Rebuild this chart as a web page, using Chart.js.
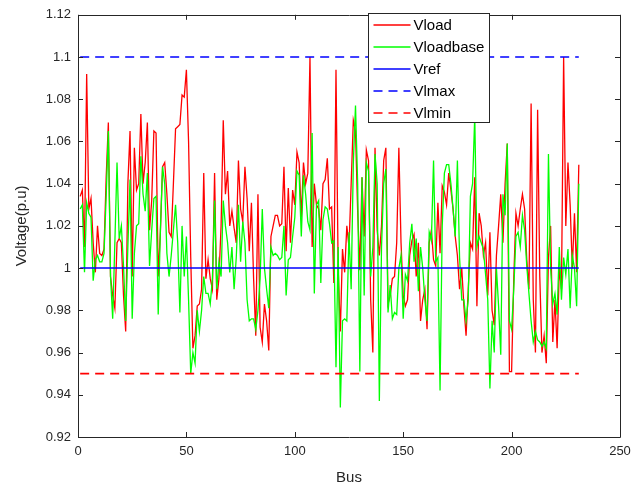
<!DOCTYPE html>
<html>
<head>
<meta charset="utf-8">
<script src="https://cdn.jsdelivr.net/npm/chart.js@4"></script>
<style>
    html, body { margin: 0; padding: 0; background: #fff; }
    #wrap { width: 641px; height: 491px; position: relative; }
</style>
</head>
<body>
<div id="wrap"><canvas id="chart"></canvas></div>
<script>
// bus voltages (p.u.), bus 1..231
const vload = [
    1.034, 1.037, 1.010, 1.092, 1.028, 1.033, 1.012, 0.998, 1.020, 1.007,
    1.006, 1.009, 1.043, 1.069, 0.996, 0.987, 0.981, 1.012, 1.014, 1.012,
    0.987, 0.970, 1.040, 1.065, 0.996, 1.057, 1.037, 1.040, 1.073, 1.040,
    1.050, 1.069, 1.018, 1.032, 1.065, 1.064, 0.996, 1.017, 1.048, 1.050,
    1.035, 1.017, 1.015, 1.040, 1.066, 1.067, 1.068, 1.082, 1.081, 1.094,
    1.060, 1.005, 0.962, 0.968, 0.982, 0.983, 0.990, 1.045, 0.995, 1.004,
    0.995, 0.990, 1.045, 0.985, 0.995, 1.020, 1.070, 1.035, 1.046, 1.020,
    1.027, 1.019, 1.012, 1.051, 1.028, 1.022, 1.048, 1.033, 1.008, 1.031,
    0.995, 0.968, 1.035, 0.972, 0.965, 0.983, 0.975, 0.961, 1.015, 1.020,
    1.025, 1.025, 1.020, 1.021, 1.048, 1.008, 1.038, 1.012, 1.037, 1.030,
    1.055, 1.050, 1.024, 1.050, 1.040, 1.045, 1.100, 1.010, 1.040, 1.030,
    1.028, 1.018, 1.040, 1.042, 1.052, 1.028, 1.029, 0.993, 1.094, 1.000,
    0.970, 1.009, 0.998, 1.020, 1.010, 1.040, 1.070, 1.065, 1.027, 0.999,
    1.043, 1.015, 1.056, 1.051, 0.985, 0.960, 1.057, 1.018, 1.006, 1.020,
    1.051, 1.057, 0.983, 0.987, 0.995, 0.996, 1.012, 1.057, 1.012, 0.987,
    0.982, 0.985, 1.006, 1.013, 1.016, 0.996, 1.012, 0.975, 0.985, 0.990,
    0.971, 1.012, 1.018, 1.004, 1.001, 1.031, 1.007, 1.039, 1.036, 1.030,
    1.045, 1.037, 1.028, 1.015, 1.006, 0.990, 1.000, 0.982, 0.968, 0.990,
    1.012, 1.009, 1.043, 0.982, 1.026, 1.020, 1.006, 1.012, 0.987, 1.017,
    0.980, 0.973, 1.006, 1.020, 1.035, 1.012, 1.040, 1.059, 0.951, 0.951,
    0.995, 1.026, 1.020, 1.028, 1.035, 1.028, 1.004, 0.990, 1.078, 0.985,
    0.960, 1.075, 0.996, 0.960, 0.968, 0.955, 1.005, 1.020, 0.965, 0.985,
    0.962, 1.000, 0.990, 1.100, 1.020, 1.050, 1.030, 1.000, 1.026, 0.998,
    1.049
];
const vloadbase = [
    1.028, 1.030, 0.998, 1.031, 1.026, 1.024, 0.994, 1.004, 1.006, 1.003,
    1.003, 1.007, 1.034, 1.065, 0.996, 0.976, 1.012, 1.050, 1.014, 1.020,
    1.001, 0.975, 1.010, 1.042, 0.976, 1.007, 1.020, 1.021, 1.053, 1.035,
    1.027, 1.045, 1.001, 1.018, 1.033, 1.034, 0.978, 1.018, 1.048, 1.040,
    1.007, 0.996, 1.006, 1.018, 1.030, 1.012, 0.979, 1.020, 0.996, 1.015,
    0.985, 0.950, 0.960, 0.955, 0.980, 0.970, 0.980, 0.996, 0.988, 0.988,
    0.983, 0.995, 1.032, 0.990, 1.003, 0.996, 1.032, 1.020, 1.012, 0.998,
    1.010, 0.990, 1.005, 1.030, 1.003, 1.022, 1.012, 0.985, 0.975, 0.976,
    0.976, 0.971, 0.980, 0.995, 1.028, 1.000, 0.990, 0.981, 1.010, 1.006,
    1.007, 1.006, 1.004, 1.005, 1.020, 0.987, 1.004, 1.005, 1.015, 1.024,
    1.046, 1.044, 1.015, 1.044, 1.035, 1.022, 1.018, 1.064, 0.988, 1.030,
    1.032, 0.993, 1.023, 1.029, 1.028, 1.021, 1.012, 1.013, 0.953, 1.010,
    0.934, 0.975, 0.976, 0.975, 1.017, 0.990, 1.050, 1.077, 1.040, 0.951,
    1.043, 0.987, 1.050, 1.046, 0.996, 1.010, 1.054, 1.040, 0.937, 1.010,
    1.040, 1.047, 0.979, 0.992, 0.976, 0.979, 0.978, 1.000, 1.006, 0.976,
    0.997, 0.994, 1.012, 1.021, 1.003, 1.014, 0.989, 1.010, 1.000, 0.985,
    0.975, 1.017, 1.013, 1.051, 1.003, 1.005, 0.942, 1.020, 1.045, 1.049,
    1.049, 1.040, 1.028, 1.015, 1.051, 1.005, 0.985, 0.985, 0.975, 0.985,
    1.034, 1.040, 1.072, 1.010, 1.015, 1.012, 1.009, 0.997, 0.985, 0.943,
    0.975, 0.960, 1.000, 0.982, 0.959, 1.035, 1.025, 1.059, 0.975, 0.971,
    0.990, 1.015, 1.017, 1.010, 1.025, 1.018, 1.001, 0.988, 0.975, 0.965,
    0.970, 0.966, 0.965, 0.963, 0.965, 0.962, 1.054, 1.000, 0.983, 0.988,
    0.978, 1.010, 0.985, 1.005, 0.997, 1.009, 0.981, 1.006, 1.000, 0.982,
    1.040
];
const vref = 1.0;
const vlmax = 1.1;
const vlmin = 0.95;
const seriesNames = ['Vload', 'Vloadbase', 'Vref', 'Vlmax', 'Vlmin'];
const xTicks = [0, 50, 100, 150, 200, 250];
const yTicks = [0.92, 0.94, 0.96, 0.98, 1, 1.02, 1.04, 1.06, 1.08, 1.1, 1.12];

const buses = vload.map((v, i) => i + 1);
const firstBus = buses[0];
const lastBus = buses[buses.length - 1];

const RED = '#ff0000';
const GREEN = '#00ff00';
const BLUE = '#0000ff';
const AXIS = '#262626';
const FONT = "'Liberation Sans', Arial, sans-serif";
const DASH = [9, 6];

// one style per series, same order as seriesNames
const seriesColors = [RED, GREEN, BLUE, BLUE, RED];
const seriesDash = [[], [], [], DASH, DASH];
const seriesWidth = [1.3, 1.3, 1.5, 1.6, 1.6];

function points(values) {
    return values.map((v, i) => ({ x: buses[i], y: v }));
}

function flat(v) {
    return [{ x: firstBus, y: v }, { x: lastBus, y: v }];
}

let seriesData = [points(vload), points(vloadbase), flat(vref), flat(vlmax), flat(vlmin)];

// first series at the bottom, like matlab's plot order
let datasets = seriesNames.map((name, i) => ({
    label: name,
    data: seriesData[i],
    borderColor: seriesColors[i],
    borderDash: seriesDash[i],
    borderWidth: seriesWidth[i],
    pointRadius: 0,
    fill: false,
    tension: 0,
    order: seriesNames.length - i
}));

// matlab-like box with inward ticks, plus a legend drawn over the lines
const matlabFrame = {
    id: 'matlabFrame',
    afterDraw(chart) {
        const ctx = chart.ctx;
        const a = chart.chartArea;
        const xs = chart.scales.x, ys = chart.scales.y;
        const tl = 5;
        ctx.save();
        ctx.strokeStyle = AXIS;
        ctx.lineWidth = 1;
        ctx.beginPath();
        ctx.rect(Math.round(a.left) + 0.5, Math.round(a.top) + 0.5,
            Math.round(a.right - a.left), Math.round(a.bottom - a.top));
        xTicks.forEach(t => {
            const px = Math.round(xs.getPixelForValue(t)) + 0.5;
            ctx.moveTo(px, a.bottom); ctx.lineTo(px, a.bottom - tl);
            ctx.moveTo(px, a.top); ctx.lineTo(px, a.top + tl);
        });
        yTicks.forEach(t => {
            const py = Math.round(ys.getPixelForValue(t)) + 0.5;
            ctx.moveTo(a.left, py); ctx.lineTo(a.left + tl, py);
            ctx.moveTo(a.right, py); ctx.lineTo(a.right - tl, py);
        });
        ctx.stroke();

        // legend
        const bx = 368.5, by = 13.5, bw = 121, bh = 109;
        ctx.fillStyle = '#fff';
        ctx.fillRect(bx, by, bw, bh);
        ctx.strokeStyle = AXIS;
        ctx.strokeRect(bx, by, bw, bh);
        ctx.font = '15px ' + FONT;
        ctx.textBaseline = 'middle';
        ctx.textAlign = 'left';
        seriesNames.forEach((name, i) => {
            const y = Math.round(by + 11 + i * 22);
            ctx.strokeStyle = seriesColors[i];
            ctx.lineWidth = 1.6;
            ctx.setLineDash(seriesDash[i]);
            ctx.beginPath();
            ctx.moveTo(bx + 5, y);
            ctx.lineTo(bx + 42, y);
            ctx.stroke();
            ctx.setLineDash([]);
            ctx.fillStyle = '#000';
            ctx.fillText(name, bx + 45, y + 0.5);
        });
        ctx.restore();
    }
};

const config = {
    type: 'line',
    data: { datasets: datasets },
    options: {
        responsive: true,
        maintainAspectRatio: false,
        animation: false,
        layout: { padding: { top: 12, right: 21, left: 0, bottom: 0 } },
        plugins: {
            legend: { display: false },
            tooltip: { enabled: false }
        },
        scales: {
            x: {
                type: 'linear',
                min: 0,
                max: 250,
                afterFit: (scale) => { scale.height = 54; },
                afterBuildTicks: (scale) => { scale.ticks = xTicks.map(v => ({ value: v })); },
                grid: { display: false, drawTicks: false },
                border: { display: false },
                ticks: { padding: 7, color: AXIS, font: { family: FONT, size: 13 }, maxRotation: 0 },
                title: { display: true, text: 'Bus', color: AXIS, font: { family: FONT, size: 15 }, padding: { bottom: 4 } }
            },
            y: {
                type: 'linear',
                min: 0.92,
                max: 1.12,
                afterFit: (scale) => { scale.width = 78; },
                afterBuildTicks: (scale) => { scale.ticks = yTicks.map(v => ({ value: v })); },
                grid: { display: false, drawTicks: false },
                border: { display: false },
                ticks: {
                    padding: 7,
                    color: AXIS,
                    font: { family: FONT, size: 13 },
                    callback: (v) => String(parseFloat(Number(v).toFixed(2)))
                },
                title: { display: true, text: 'Voltage(p.u)', color: AXIS, font: { family: FONT, size: 15 }, padding: { top: 13 } }
            }
        }
    },
    plugins: [matlabFrame]
};

new Chart(document.getElementById('chart'), config);
</script>
</body>
</html>
